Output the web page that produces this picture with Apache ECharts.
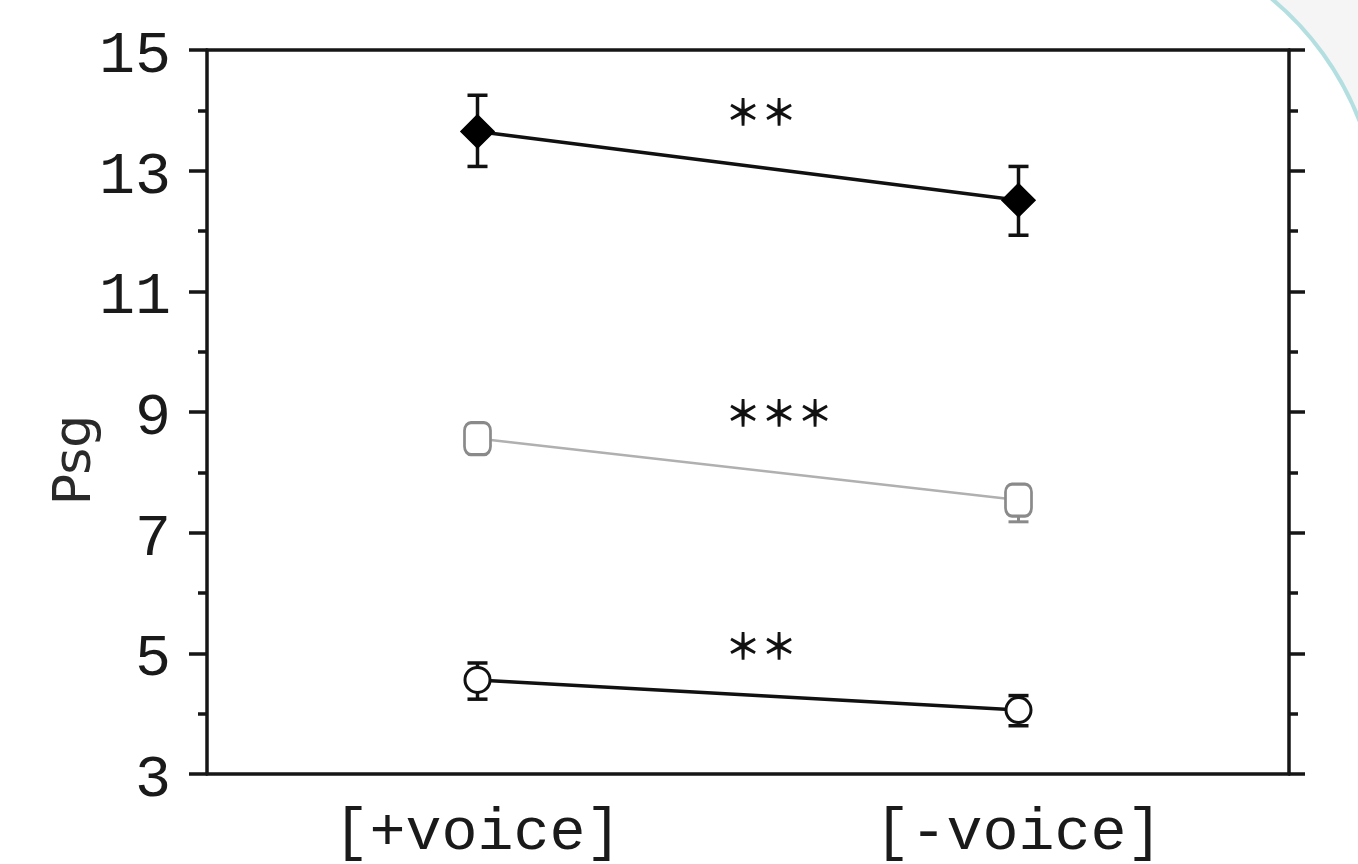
<!DOCTYPE html>
<html>
<head>
<meta charset="utf-8">
<script src="https://cdn.jsdelivr.net/npm/echarts@6/dist/echarts.min.js"></script>
<style>
html,body{margin:0;padding:0;background:#fff;}
#c{width:1358px;height:864px;}
</style>
</head>
<body>
<div id="c"></div>
<script>
// ---- data ----
const categories = ['[+voice]', '[-voice]'];
// filled diamonds (black)
const diamondMean = [13.65, 12.51];
const diamondLow  = [13.07, 11.93];
const diamondHigh = [14.25, 13.07];
// open squares (grey)
const squareMean = [8.56, 7.54];
const squareLow  = [8.36, 7.18];
const squareHigh = [8.76, 7.72];
// open circles (black)
const circleMean = [4.56, 4.06];
const circleLow  = [4.24, 3.80];
const circleHigh = [4.84, 4.30];
// significance annotations
const annotText = ['＊＊', '＊＊＊', '＊＊'];
const annotY = [13.96, 8.98, 5.12];

const chart = echarts.init(document.getElementById('c'));

const labelFont = "'Courier New', 'Liberation Mono', monospace";
const axisColor = '#161616';

function errSeries(low, high, color, width) {
  return {
    type: 'custom',
    xAxisIndex: 0, yAxisIndex: 0,
    z: 1,
    data: categories.map((c, i) => [i, low[i], high[i]]),
    renderItem: function (params, api) {
      const i = api.value(0);
      const lo = api.coord([i, api.value(1)]);
      const hi = api.coord([i, api.value(2)]);
      const cap = 10;
      const st = {stroke: color, lineWidth: width};
      return {
        type: 'group',
        children: [
          {type: 'line', shape: {x1: lo[0], y1: lo[1], x2: hi[0], y2: hi[1]}, style: st},
          {type: 'line', shape: {x1: lo[0] - cap, y1: lo[1], x2: lo[0] + cap, y2: lo[1]}, style: st},
          {type: 'line', shape: {x1: hi[0] - cap, y1: hi[1], x2: hi[0] + cap, y2: hi[1]}, style: st}
        ]
      };
    }
  };
}

function meanSeries(mean, symbol, size, lineColor, lineWidth, symColor, symFill) {
  return {
    type: 'line',
    xAxisIndex: 0, yAxisIndex: 0,
    z: 3,
    data: categories.map((c, i) => [c, mean[i]]),
    symbol: symbol,
    symbolSize: size,
    showAllSymbol: true,
    lineStyle: {color: lineColor, width: lineWidth},
    itemStyle: {color: symFill, borderColor: symColor, borderWidth: 3},
    emphasis: {disabled: true},
    animation: false
  };
}

// decorative corner arc (page background shape)
const arcC = [1079, 230], arcR = 301;
const a0 = Math.atan2(0 - arcC[1], 1273 - arcC[0]);
const a1 = Math.atan2(117 - arcC[1], 1358 - arcC[0]);
const cornerPts = [];
for (let k = 0; k <= 40; k++) {
  const a = a0 + (a1 - a0) * k / 40;
  cornerPts.push([arcC[0] + arcR * Math.cos(a), arcC[1] + arcR * Math.sin(a)]);
}
cornerPts.push([1358, 0]);

const option = {
  animation: false,
  backgroundColor: '#ffffff',
  grid: {left: 207, right: 69, top: 50, bottom: 90},
  xAxis: [
    {
      type: 'category', position: 'bottom', data: categories, boundaryGap: true,
      axisLine: {lineStyle: {color: axisColor, width: 3.5}},
      axisTick: {alignWithLabel: true, length: 9, lineStyle: {color: axisColor, width: 3.5}},
      axisLabel: {fontFamily: labelFont, fontSize: 60, color: '#1a1a1a', margin: 29},
      splitLine: {show: false}
    },
    {
      type: 'category', position: 'top', data: categories, boundaryGap: true,
      axisLine: {lineStyle: {color: axisColor, width: 3.5}},
      axisTick: {alignWithLabel: true, length: 8, lineStyle: {color: axisColor, width: 3.5}},
      axisLabel: {show: false},
      splitLine: {show: false}
    },
    {
      type: 'value', min: 0, max: 1, show: false
    }
  ],
  yAxis: [
    {
      type: 'value', position: 'left', min: 3, max: 15, interval: 2,
      name: 'Psg', nameLocation: 'middle', nameGap: 105, nameRotate: 90,
      nameMoveOverlap: false,
      nameTextStyle: {fontFamily: "'DejaVu Sans', Verdana, sans-serif", fontSize: 52, color: '#2a2a2a',
        padding: [0, 96, 0, 0]},
      axisLine: {show: true, lineStyle: {color: axisColor, width: 3.5}},
      axisTick: {show: true, length: 18, lineStyle: {color: axisColor, width: 3.5}},
      minorTick: {show: true, splitNumber: 2, length: 9, lineStyle: {color: axisColor, width: 3.5}},
      axisLabel: {fontFamily: labelFont, fontSize: 60, color: '#1a1a1a', margin: 36,
        verticalAlign: 'top', lineHeight: 12},
      splitLine: {show: false}
    },
    {
      type: 'value', position: 'right', min: 3, max: 15, interval: 2,
      axisLine: {show: true, lineStyle: {color: axisColor, width: 3.5}},
      axisTick: {show: true, length: 16, lineStyle: {color: axisColor, width: 3.5}},
      minorTick: {show: true, splitNumber: 2, length: 9, lineStyle: {color: axisColor, width: 3.5}},
      axisLabel: {show: false},
      splitLine: {show: false}
    }
  ],
  graphic: [
    {type: 'polygon', z: -10, shape: {points: cornerPts}, style: {fill: '#f5f5f5'}},
    {type: 'arc', z: -9, shape: {cx: arcC[0], cy: arcC[1], r: arcR, startAngle: a0 - 0.05, endAngle: a1 + 0.05, clockwise: true},
      style: {fill: null, stroke: '#b3dfe1', lineWidth: 4}}
  ],
  series: [
    errSeries(diamondLow, diamondHigh, '#111111', 3.5),
    errSeries(squareLow, squareHigh, '#8a8a8a', 3),
    errSeries(circleLow, circleHigh, '#111111', 3.5),
    meanSeries(diamondMean, 'diamond', [31, 31], '#111111', 3.5, '#000000', '#000000'),
    meanSeries(squareMean, 'roundRect', [26, 32], '#b0b0b0', 2.5, '#8a8a8a', '#ffffff'),
    meanSeries(circleMean, 'circle', 25, '#111111', 3.5, '#111111', '#ffffff'),
    {
      type: 'custom',
      xAxisIndex: 2, yAxisIndex: 0,
      z: 4,
      data: annotY.map((y, i) => [0.4815, y, i]),
      renderItem: function (params, api) {
        const p = api.coord([api.value(0), api.value(1)]);
        return {
          type: 'text',
          x: p[0] - 3, y: p[1],
          style: {
            text: annotText[api.value(2)],
            fontFamily: "'Noto Sans CJK JP', sans-serif",
            fontWeight: 'bold',
            fontSize: 36,
            fill: '#111111',
            align: 'left',
            verticalAlign: 'middle'
          }
        };
      }
    }
  ]
};

chart.setOption(option);
</script>
</body>
</html>
